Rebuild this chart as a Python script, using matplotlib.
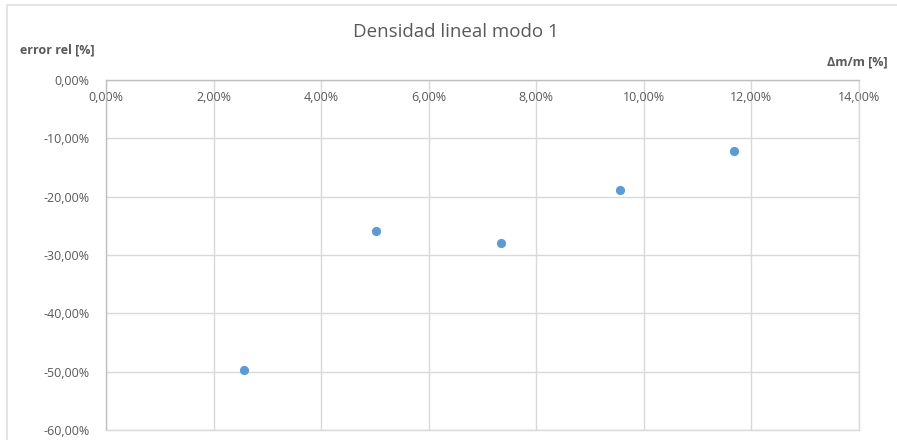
import matplotlib.pyplot as plt
from matplotlib.ticker import FuncFormatter
from matplotlib.patches import Rectangle

# Densidad lineal, modo 1: error relativo frente a variación de masa
dm_m = [2.57, 5.02, 7.34, 9.55, 11.67]
error_rel = [-49.7, -25.9, -27.9, -18.9, -12.2]

x_ticks = [0, 2, 4, 6, 8, 10, 12, 14]
y_ticks = [0, -10, -20, -30, -40, -50, -60]

GRAY = "#595959"
GRID = "#d9d9d9"


def pct(v, pos=None):
    return "{:.2f}%".format(v).replace(".", ",")


def make_graph():
    plt.rcParams["font.family"] = ["Open Sans", "DejaVu Sans"]
    fig = plt.figure(figsize=(8.97, 4.4), dpi=100)
    W, H = 897, 440
    ax = fig.add_axes([106 / W, 1 - 430 / H, (859 - 106) / W, (430 - 80) / H])

    # borde del área del gráfico
    fig.patches.append(Rectangle((7 / W, -0.1), 1.0, 1 - 5 / H + 0.1,
                                 transform=fig.transFigure, fill=False,
                                 edgecolor="#e0e0e0", linewidth=1.2))

    ax.scatter(dm_m, error_rel, s=44, color="#5b9bd5", zorder=3, linewidths=0)

    ax.set_xlim(0, 14)
    ax.set_ylim(-60, 0)
    ax.set_xticks(x_ticks)
    ax.set_yticks(y_ticks)
    ax.xaxis.set_major_formatter(FuncFormatter(pct))
    ax.yaxis.set_major_formatter(FuncFormatter(pct))
    ax.grid(True, color=GRID, linewidth=1)
    ax.set_axisbelow(True)
    for s in ax.spines.values():
        s.set_color(GRID)
        s.set_linewidth(1)
    ax.spines["top"].set_color("#bfbfbf")
    ax.spines["left"].set_color("#bfbfbf")

    ax.tick_params(length=0, labelsize=9, labelcolor=GRAY)
    ax.tick_params(axis="y", pad=12)
    # eje x arriba (y = 0), etiquetas justo debajo de la línea
    ax.xaxis.set_ticks_position("top")
    ax.xaxis.set_label_position("top")
    ax.tick_params(axis="x", pad=-17)

    fig.text(456 / W, 1 - 32 / H, "Densidad lineal modo 1", ha="center",
             va="center", fontsize=13.5, color=GRAY)
    fig.text(20 / W, 1 - 50 / H, "error rel [%]", ha="left", va="center",
             fontsize=9, color=GRAY, fontweight="bold")
    fig.text(888 / W, 1 - 62 / H, "\u0394m/m [%]", ha="right", va="center",
             fontsize=9, color=GRAY, fontweight="bold")

    fig.savefig("out.png", dpi=100)
    plt.close(fig)


def main():
    make_graph()


if __name__ == "__main__":
    main()
